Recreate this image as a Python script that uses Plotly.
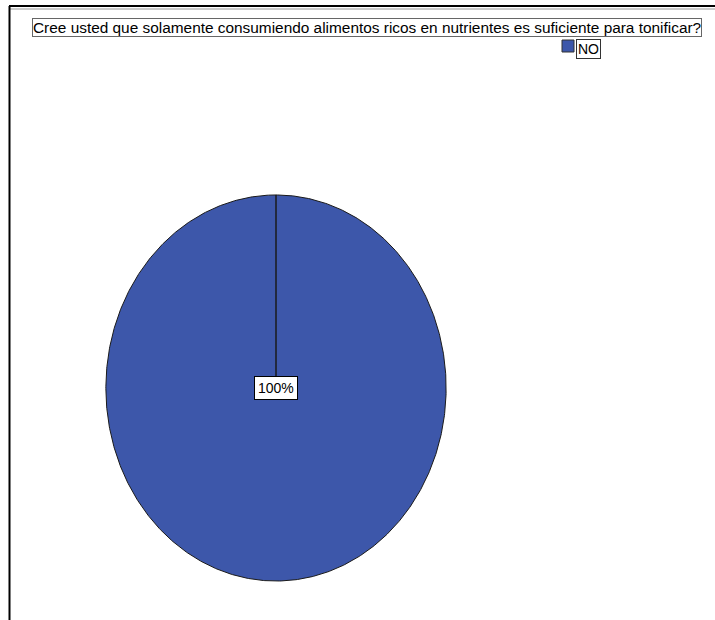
import numpy as np
import plotly.graph_objects as go

# Survey answers and their shares
categories = ["NO"]
values = [100]
colors = ["#3d57aa"]
title_text = "Cree usted que solamente consumiendo alimentos ricos en nutrientes es suficiente para tonificar?"

W, H = 715, 620


def px_x(p):
    return p / W


def px_y(p):
    return 1 - p / H


fig = go.Figure()

# Slices are drawn as filled wedges on a unit ellipse, starting at 12 o'clock, clockwise
total = float(sum(values))
start = 0.0
for cat, val, col in zip(categories, values, colors):
    frac = val / total
    t = np.linspace(start, start + frac, max(int(frac * 720), 2))
    ang = np.pi / 2 - 2 * np.pi * t
    xs = np.concatenate([[0], np.cos(ang), [0]])
    ys = np.concatenate([[0], np.sin(ang), [0]])
    fig.add_trace(go.Scatter(
        x=xs, y=ys, mode="lines", fill="toself", fillcolor=col,
        line=dict(color="#1a1a1a", width=1), name=cat, showlegend=False,
        hoverinfo="skip",
    ))
    mid = start + frac / 2
    lab_r = 0.0 if frac >= 0.999 else 0.6
    fig.add_annotation(
        x=lab_r * np.cos(np.pi / 2 - 2 * np.pi * mid),
        y=lab_r * np.sin(np.pi / 2 - 2 * np.pi * mid),
        xref="x", yref="y", text=f"{val:.0f}%", showarrow=False,
        font=dict(family="Liberation Sans, Arial", size=14, color="black"),
        bgcolor="white", bordercolor="black", borderwidth=1, borderpad=3,
    )
    start += frac

# Legend: swatch plus boxed label
for i, (cat, col) in enumerate(zip(categories, colors)):
    fig.add_shape(type="rect", xref="paper", yref="paper",
                  x0=px_x(562), x1=px_x(574), y0=px_y(52), y1=px_y(40),
                  fillcolor=col, line=dict(color="#333333", width=1))
    fig.add_annotation(x=px_x(576), y=px_y(49), xref="paper", yref="paper",
                       xanchor="left", yanchor="middle", text=cat, showarrow=False,
                       font=dict(family="Liberation Sans, Arial", size=14, color="black"),
                       bgcolor="white", bordercolor="#333333", borderwidth=1, borderpad=1)

# Title in a framed box
fig.add_annotation(x=px_x(367), y=px_y(27), xref="paper", yref="paper",
                   xanchor="center", yanchor="middle", text=title_text, showarrow=False,
                   font=dict(family="Liberation Sans, Arial", size=15.4, color="black"),
                   bgcolor="white", bordercolor="#666666", borderwidth=1, borderpad=0)

# Frame lines along the top and left edges
fig.add_shape(type="line", xref="paper", yref="paper", x0=px_x(9), x1=1,
              y0=px_y(6), y1=px_y(6), line=dict(color="black", width=2))
fig.add_shape(type="line", xref="paper", yref="paper", x0=px_x(10), x1=1,
              y0=px_y(9), y1=px_y(9), line=dict(color="#999999", width=1))
fig.add_shape(type="line", xref="paper", yref="paper", x0=px_x(9.5), x1=px_x(9.5),
              y0=px_y(6), y1=0, line=dict(color="black", width=2))

fig.update_layout(
    width=W, height=H, margin=dict(l=0, r=0, t=0, b=0),
    paper_bgcolor="white", plot_bgcolor="white", showlegend=False,
    xaxis=dict(range=[-1.005, 1.005], domain=[px_x(105), px_x(447)],
               visible=False, fixedrange=True),
    yaxis=dict(range=[-1.005, 1.005], domain=[px_y(582), px_y(194)],
               visible=False, fixedrange=True),
)

fig.write_html("out.html")
